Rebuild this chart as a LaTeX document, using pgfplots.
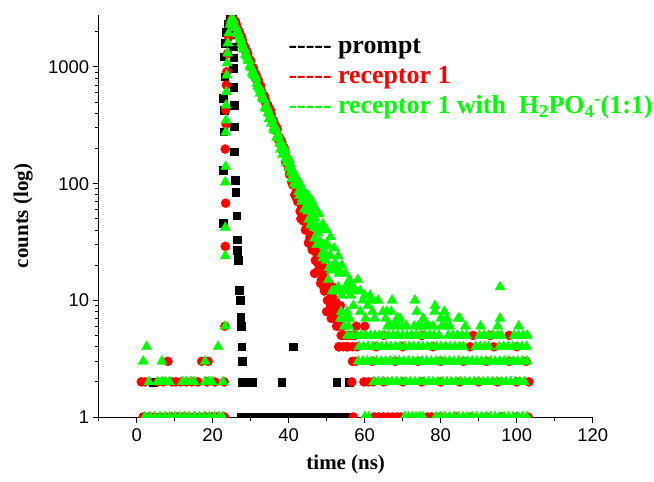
\documentclass[border=0pt]{standalone}
\usepackage{pgfplots}
\pgfplotsset{compat=1.18}
\usepackage{fontspec}
\setmainfont{Liberation Serif}
\newfontfamily\arial{Liberation Sans}
\definecolor{pred}{RGB}{255,0,0}
\definecolor{pgreen}{RGB}{0,255,0}
\newcommand\dd{-\kern0pt-\kern0pt-\kern0pt-\kern0pt-}
\begin{document}
\begin{tikzpicture}
\path[use as bounding box] (-98.7bp,-65bp) rectangle (555.3bp,417bp);
\begin{axis}[
  at={(0,0)}, anchor=south west,
  scale only axis, width=494bp, height=402bp,
  xmin=-10, xmax=120, ymin=1, ymax=2790,
  ymode=log,
  axis x line*=bottom, axis y line*=left,
  axis line style={black, line width=1bp},
  xtick={0,20,40,60,80,100,120},
  xticklabels={0,20,40,60,80,100,120},
  minor xtick={-10,10,30,50,70,90,110},
  ytick={1,10,100,1000},
  yticklabels={1,10,100,1000},
  minor ytick={2,3,4,5,6,7,8,9,20,30,40,50,60,70,80,90,200,300,400,500,600,700,800,900,2000},
  tick align=outside,
  major tick length=6bp, minor tick length=4bp,
  every tick/.style={black, line width=1bp},
  tick label style={font=\arial\fontsize{18.5}{20}\selectfont},
  xticklabel style={yshift=-2bp},
  xlabel={time (ns)},
  ylabel={counts (log)},
  every axis x label/.style={at={(axis description cs:0.5,-0.130)}, anchor=base, font=\bfseries\fontsize{21}{24}\selectfont},
  every axis y label/.style={at={(axis description cs:-0.143,0.5)}, anchor=base, rotate=90, font=\bfseries\fontsize{21}{24}\selectfont},
  clip marker paths=true,
]
% prompt
\addplot[only marks, mark=square*, mark size=3.8pt, black, mark options={line width=0.3pt}] coordinates {
(2,1)(4,1)(6,1)(8,1)(10,1)(12,1)(14,1)(16,1)(18,1)(20,1)(22,1)(4.4,2)
(22.7,46)(22.8,130)(22.9,280)(23.0,428)(22.8,540)(23.1,824)(22.9,1230)(23.2,1600)(23.6,2000)(24.0,2350)(24.5,2600)(25.0,2760)
(25.2,2650)(25.3,2300)(25.4,1900)(25.4,1500)(25.5,1200)(25.4,980)(25.5,675)(25.6,472)(25.6,307)(25.7,188)(25.9,107)(26.0,85)(26.3,53)(26.4,33)(26.5,27)(26.6,24.5)(26.7,22)(27.0,12.2)(27.2,10)(27.3,7.2)(27.4,7)(27.5,6)(27.6,4)(27.7,3)(27.9,3)(27.8,2)(28.4,2)(29,2)(29.7,2)(30.5,2)(38.2,2)(41.1,4)(52.6,2)(55.9,2)
(27.5,1)(28.5,1)(29.5,1)(30.5,1)(31.5,1)(32.5,1)(33.5,1)(34.5,1)(35.5,1)(36.5,1)(37.5,1)(38.5,1)(39.5,1)(40.5,1)(41.5,1)(42.5,1)(43.5,1)(44.5,1)(45.5,1)(46.5,1)(47.5,1)(48.5,1)(49.5,1)(50.5,1)(51.5,1)(52.5,1)(53.5,1)(54.5,1)(55.5,1)(56.5,1)
};
% receptor 1
\addplot[only marks, mark=*, mark size=4.6pt, pred, mark options={line width=0.3pt}] coordinates {
(1.7,1)(3.2,1)(4.7,1)(6.2,1)(7.7,1)(9.2,1)(10.7,1)(12.2,1)(13.7,1)(15.2,1)(16.7,1)(18.2,1)(19.7,1)(21.2,1)(22.7,1)(23.1,1)
(1.2,2)(2.2,2)(5.5,2)(7.0,2)(9.3,2)(10.3,2)(11.6,2)(13.0,2)(14.5,2)(16.1,2)(18.5,2)(20.6,2)(23.0,2)
(8.2,3)(17.1,3)(18.8,3)(23.2,6)
(23.3,29)(23.4,68)(23.3,198)(23.5,325)(23.4,427)(23.6,700)(23.7,910)(23.9,1300)(24.2,1800)(24.6,2300)(25.1,2600)
(25.6,2524)(26.0,2440)(26.4,2193)(26.8,1982)(27.2,1909)(27.6,1813)(28.0,1587)(28.4,1498)(28.8,1322)(29.2,1303)(29.6,1168)(30.0,1122)(30.4,980)(30.8,947)(31.2,809)(31.6,797)(32.0,773)(32.4,663)(32.8,628)(33.2,557)(33.6,565)(34.0,488)(34.4,476)(34.8,398)(35.2,425)(35.6,357)(36.0,345)(36.4,294)(36.8,304)(37.2,240)(37.6,246)(38.0,232)(38.4,195)(38.8,203)(39.2,153)(39.6,156)(40.0,134)(40.4,142)(40.8,103)(41.2,104)(41.6,80)(42.0,90)(42.4,70)(42.8,76)(43.2,50)(43.6,59)(44.0,50)(44.4,40)(44.8,50)(45.2,31)(45.6,35)(46.0,29)(46.4,34)(46.8,17)(47.2,27)(47.6,21)(48.0,21)(48.4,14)(48.8,20)(49.2,13)(49.6,18)(50.0,8)(50.4,12)(50.8,13)(51.2,7)(51.6,13)(52.0,7)(52.4,8)(52.8,9)(53.2,4)(53.6,9)
(25.8,2455)(26.2,2320)(26.6,2080)(27.0,2010)(27.4,1790)(27.8,1700)(28.2,1500)(28.6,1440)(29.0,1360)(29.4,1190)(29.8,1140)(30.2,1010)(30.6,990)(31.0,880)(31.4,860)(31.8,740)(32.2,712)(32.6,690)(33.0,590)(33.4,540)(33.8,530)(34.2,470)(34.6,460)(35.0,396)(35.4,392)(35.8,330)(36.2,331)(36.6,285)(37.0,290)(37.4,250)(37.8,220)(38.2,225)(38.6,190)(39.0,186)(39.4,150)(39.8,152)(40.2,120)(40.6,126)(41.0,98)(41.4,101)(41.8,80)
(42.2,73)(42.6,78)(43.0,58)(43.4,62)(43.8,48)(44.2,52)(44.6,41)(45.0,42)(45.4,32)(45.8,36)(46.2,27)(46.6,30)(47.0,22)(47.4,25)(47.8,18)(48.2,22)(48.6,15)(49.0,17)(49.4,12)(49.8,15)(50.2,10)(50.6,14)(51.0,9)(51.4,11)(51.8,8)(52.2,10)(52.6,6)(53.0,8)(53.4,6)
(57.0,1)(62.5,1)(63.7,1)(64.9,1)(66.1,1)(67.3,1)(68.5,1)(69.5,1)(76.5,1)(77.6,1)(80,1)(84,1)(88,1)(92,1)(96,1)(100,1)(103,1)
(56.6,2)(59.8,2)(61.0,2)(62.2,2)(65,2)(70,2)(75,2)(80,2)(85,2)(90,2)(95,2)(100,2)(103.2,2)
(56.8,3)(57.6,3)(62,3)(68,3)(74,3)(80,3)(86,3)(92,3)(98,3)(102.5,3)
(53.2,4)(54.4,4)(55.6,4)(56.8,4)(58.0,4)(63,4)(70,4)(78,4)(87.7,4)(94.0,4)(100,4)
(54.4,5)(55.4,5)(56.4,5)(57.4,5)(65,5)(75,5)(88.5,5)(93,5)(98,5)
(53.8,5)(54.2,6)(55.2,4)(55.6,5)(57.8,6)(60,6)
};
% receptor 1 with H2PO4-
\addplot[only marks, mark=triangle*, mark size=5.9pt, pgreen, mark options={line width=0.3pt}] coordinates {
(2.2,1)(3.5,1)(4.8,1)(6.1,1)(7.4,1)(8.7,1)(10.0,1)(11.3,1)(12.6,1)(13.9,1)(15.2,1)(16.5,1)(17.8,1)(19.1,1)(20.4,1)(21.7,1)(22.6,1)
(3.2,2)(5.5,2)(6.6,2)(7.6,2)(8.6,2)(12.0,2)(13.0,2)(14.2,2)(15.1,2)(18.0,2)(19.0,2)(19.8,2)(22.7,2)
(1.7,3)(6.6,3)(18.0,3)(2.6,4)(21.4,4)
(23.3,6)(23.3,24)(23.3,42)(23.3,103)(23.4,140)(23.4,275)(23.5,350)(23.5,470)(23.6,610)(23.7,850)(23.8,1080)(23.9,1310)(24.0,1600)(24.2,1950)(24.5,2300)(24.8,2520)
(25.2,2595)(25.6,2318)(26.0,2236)(26.4,2018)(26.8,1944)(27.2,1709)(27.6,1615)(28.0,1424)(28.4,1411)(28.8,1285)(29.2,1144)(29.6,1129)(30.0,1002)(30.4,895)(30.8,880)(31.2,845)(31.6,721)(32.0,687)(32.4,593)(32.8,603)(33.2,532)(33.6,522)(34.0,442)(34.4,437)(34.8,359)(35.2,365)(35.6,362)(36.0,299)(36.4,287)(36.8,249)(37.2,264)(37.6,221)(38.0,222)(38.4,177)(38.8,204)(39.2,165)(39.6,163)(40.0,136)(40.4,148)(40.8,110)(41.2,120)(41.6,117)(42.0,96)(42.4,108)(42.8,79)(43.2,87)(43.6,75)(44.0,86)(44.4,60)(44.8,64)(45.2,49)(45.6,60)(46.0,46)(46.4,54)(46.8,34)(47.2,44)(47.6,38)(48.0,31)(48.4,41)(48.8,25)(49.2,30)(49.6,25)(50.0,30)(50.4,15)(50.8,24)(51.2,18)(51.6,19)(52.0,12)(52.4,19)(52.8,12)(53.2,17)(53.6,7)(54.0,11)(54.4,12)(54.8,7)(55.2,12)(55.6,7)(56.0,7)
(25.4,2517)(25.8,2267)(26.2,2168)(26.6,1910)(27.0,1820)(27.4,1732)(27.8,1514)(28.2,1452)(28.6,1270)(29.0,1229)(29.4,1167)(29.8,1026)(30.2,991)(30.6,857)(31.0,837)(31.4,800)(31.8,682)(32.2,656)(32.6,643)(33.0,546)(33.4,532)(33.8,450)(34.2,461)(34.6,404)(35.0,397)(35.4,328)(35.8,332)(36.2,287)(36.6,299)(37.0,250)(37.4,245)(37.8,196)(38.2,213)(38.6,183)(39.0,191)(39.4,151)(39.8,156)(40.2,161)(40.6,125)(41.0,132)(41.4,100)(41.8,110)(42.2,109)(42.6,85)(43.0,100)(43.4,70)(43.8,76)
(44.2,61)(44.6,74)(45.0,58)(45.4,68)(45.8,44)(46.2,52)(46.6,42)(47.0,50)(47.4,30)(47.8,41)(48.2,32)(48.6,42)(49.0,23)(49.4,29)(49.8,22)(50.2,30)(50.6,19)(51.0,24)(51.4,12)(51.8,19)(52.2,21)(52.6,12)(53.0,13)(53.4,18)(53.8,8)(54.2,12)(54.6,6)(55.0,13)(55.4,8)(55.8,6)
(45.0,80)(46.0,72)(47.0,62)(48.0,55)(49.0,45)(50.0,40)(51.0,35)(52.0,28)(53.0,24)(54.0,20)(55.0,17)(56.0,15)(57.0,13)(58.8,12)(60.0,11)(62.0,10)
(55.5,14)(56.3,11)(57.0,9)(57.5,12)(58.2,15)(58.8,8)(59.5,10)(60.2,7)(60.8,9)(61.4,11)(62.0,8)(62.6,7)(63.5,10)(64.8,8)(65.5,7)(67.2,10)(68.5,7)(61.4,10)
(73.2,10)(78.5,9)(65.8,8)(67,8)(73.7,8)(78.4,8)(81,8)
(69.3,7)(68.6,7)(75.4,7)(80,7)(81.6,7)(85,7)(84.6,7)(95.6,7)(95.6,13)
(66,6)(67,6)(68,6)(69,6)(70,6)(71,6)(73,6)(74,6)(75,6)(76,6)(77,6)(78,6)(80.2,6)(81.3,6)(82.4,6)(86.5,6)(90.5,6)(95,6)(100.5,6)
(55.5,5)(56.7,5)(57.9,5)(59.1,5)(60.3,5)(61.5,5)(62.7,5)(63.9,5)(65.1,5)(66.3,5)(67.5,5)(68.7,5)(69.9,5)(71.1,5)(72.3,5)(73.5,5)(74.7,5)(75.9,5)(77.1,5)(78.3,5)(79.5,5)(82.0,5)(83.2,5)(84.4,5)(85.6,5)(86.8,5)(90.2,5)(91.4,5)(92.6,5)(93.8,5)(95.0,5)(96.0,5)(99.3,5)(100.5,5)(101.7,5)(102.8,5)
(58.5,4)(59.7,4)(60.9,4)(62.1,4)(63.3,4)(64.5,4)(65.7,4)(66.9,4)(68.1,4)(69.3,4)(70.5,4)(71.7,4)(72.9,4)(74.1,4)(75.3,4)(76.5,4)(77.7,4)(78.9,4)(80.1,4)(81.3,4)(82.5,4)(83.7,4)(84.9,4)(86.0,4)(89.2,4)(90.4,4)(91.6,4)(92.6,4)(95.4,4)(96.6,4)(97.8,4)(99.0,4)(100.2,4)(101.4,4)(102.6,4)
(58.3,3)(59.5,3)(60.7,3)(61.9,3)(63.1,3)(64.3,3)(65.5,3)(66.7,3)(67.9,3)(69.1,3)(70.3,3)(71.5,3)(72.7,3)(73.9,3)(75.1,3)(76.3,3)(77.5,3)(78.7,3)(79.9,3)(81.1,3)(82.3,3)(83.5,3)(84.7,3)(85.9,3)(87.1,3)(88.3,3)(89.5,3)(90.7,3)(91.9,3)(93.1,3)(94.3,3)(95.5,3)(96.7,3)(97.9,3)(99.1,3)(100.3,3)(101.5,3)(102.7,3)
(62.4,2)(63.6,2)(64.8,2)(66.0,2)(67.2,2)(68.4,2)(69.6,2)(70.8,2)(72.0,2)(73.2,2)(74.4,2)(75.6,2)(76.8,2)(78.0,2)(79.2,2)(80.4,2)(81.6,2)(82.8,2)(84.0,2)(85.2,2)(86.4,2)(87.6,2)(88.8,2)(90.0,2)(91.2,2)(92.4,2)(93.6,2)(94.8,2)(96.0,2)(97.2,2)(98.4,2)(99.6,2)(100.8,2)(102.0,2)
(60.0,1)(61.0,1)(70.5,1)(71.5,1)(72.5,1)(73.5,1)(74.5,1)(75.3,1)(78.7,1)(79.9,1)(81.1,1)(82.3,1)(83.5,1)(84.7,1)(85.9,1)(87.1,1)(88.3,1)(89.5,1)(90.7,1)(91.9,1)(93.1,1)(94.3,1)(95.5,1)(96.7,1)(97.9,1)(99.1,1)(100.3,1)(101.5,1)(102.7,1)
};
\end{axis}
\begin{scope}[every node/.style={anchor=base west, inner sep=0pt, font=\bfseries\fontsize{26}{30}\selectfont}]
\node[black] at (189.6bp,363.7bp) {\dd{} prompt};
\node[pred] at (189.6bp,333.7bp) {\dd{} receptor 1};
\node[pgreen] at (189.6bp,303.7bp) {\dd{} receptor 1 with\ \ H\textsubscript{2}PO\textsubscript{4}\textsuperscript{-}(1:1)};
\end{scope}
\end{tikzpicture}
\end{document}
